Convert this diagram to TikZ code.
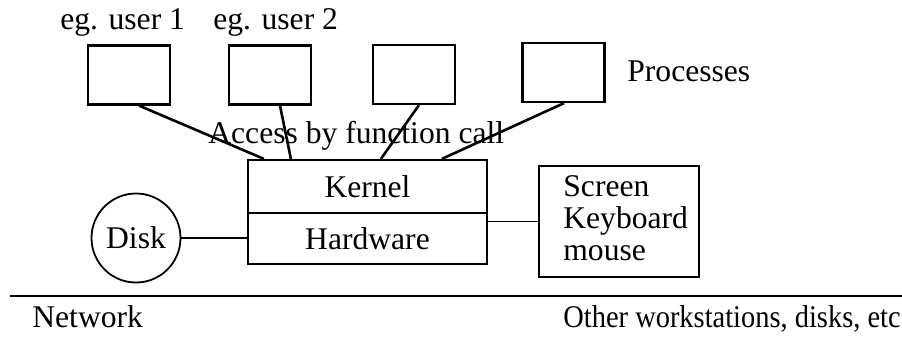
\documentclass[tikz,border=0pt]{standalone}
\usepackage{fontspec}
\setmainfont{Liberation Serif}
\usetikzlibrary{calc}
\begin{document}
\begin{tikzpicture}[x=0.5pt,y=-0.5pt,
  every node/.style={font=\fontsize{15.8pt}{15.8pt}\selectfont},
  procbox/.style={draw,line width=1.1pt,minimum width=41pt,minimum height=29.5pt,inner sep=0},
  layerbox/.style={draw,line width=1.1pt,minimum width=119.5pt,inner sep=0},
  label/.style={inner sep=0,anchor=base west},
  call/.style={line width=1.3pt},
  link/.style={line width=0.9pt},
  net/.style={line width=1.1pt}]
\useasboundingbox (0,0) rectangle (902,337);

% user processes
\node[procbox] (p1) at (129,75) {};
\node[procbox] (p2) at (270,75) {};
\node[procbox] (p3) at (414,74.5) {};
\node[procbox] (p4) at (563.5,72.5) {};

\node[label] (u1) at (60,30) {eg. user 1};
\node[label] (u2) at (213,30) {eg. user 2};
\node[label] (proc) at (627,82) {Processes};

% kernel on top of the hardware
\node[layerbox,minimum height=26.5pt] (kernel) at (367.5,186.5) {Kernel};
\node[layerbox,minimum height=25.5pt] (hw) at (367.5,238.5) {Hardware};

% calls into the kernel
\draw[call] ($(p1.south)+(10,0)$) -- ($(kernel.north west)+(17,0)$);
\draw[call] ($(p2.south)+(10,0)$) -- ($(kernel.north west)+(44,0)$);
\draw[call] ($(p3.south)+(5,0)$) -- ($(kernel.north west)+(134,0)$);
\draw[call] ($(p4.south)+(0.5,0)$) -- ($(kernel.north west)+(195,0)$);

\node[label] (access) at (208,143) {Access by function call};

% devices
\node[draw,circle,line width=0.9pt,minimum size=44.5pt,inner sep=0] (disk) at (136,238) {Disk};
\node[draw,line width=1.1pt,minimum width=80pt,minimum height=55.5pt,inner sep=0] (dev) at (619,221.5) {};
\node[label] at (563,197) {Screen};
\node[label] at (563,228) {Keyboard};
\node[label] at (563,260) {mouse};

\draw[link] (disk.east) -- (disk.east -| hw.west);
\draw[link] (hw.east |- dev.west) -- (dev.west);

% network
\coordinate (nl) at (10,296);
\coordinate (nr) at (902,296);
\draw[net] (nl) -- (nr);
\draw[net] ($(hw.south west)+(108,0)$) -- ($(hw.south west)+(108,0)$ |- nl);
\node[label] (netl) at (32,328) {Network};
\node[label] (others) at (563,328) {\scalebox{0.9}[1]{Other workstations, disks, etc}};
\end{tikzpicture}
\end{document}
